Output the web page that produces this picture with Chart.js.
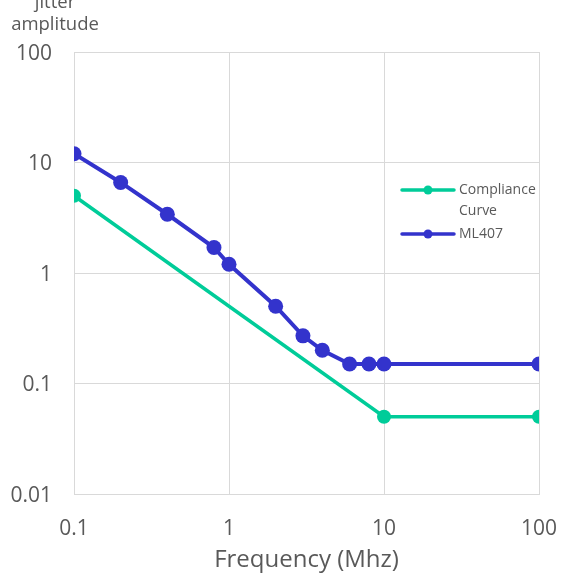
<!DOCTYPE html>
<html>
<head>
<meta charset="utf-8">
<script src="https://cdn.jsdelivr.net/npm/chart.js@4/dist/chart.umd.min.js"></script>
<style>
html,body{margin:0;padding:0;background:#fff;}
#wrap{width:561px;height:578px;position:relative;}
</style>
</head>
<body>
<div id="wrap"><canvas id="c" width="561" height="578"></canvas></div>
<script>
const complianceX = [0.1, 10, 100];
const complianceY = [5, 0.05, 0.05];
const ml407X = [0.1, 0.2, 0.4, 0.8, 1, 2, 3, 4, 6, 8, 10, 100];
const ml407Y = [12, 6.6, 3.4, 1.7, 1.2, 0.5, 0.27, 0.2, 0.15, 0.15, 0.15, 0.15];
const seriesNames = ['Compliance Curve', 'ML407'];
const xTickValues = [0.1, 1, 10, 100];
const xTickLabels = ['0.1', '1', '10', '100'];
const yTickValues = [0.01, 0.1, 1, 10, 100];
const yTickLabels = ['0.01', '0.1', '1', '10', '100'];
const xTitle = 'Frequency (Mhz)';
const yTitle = ['jitter', 'amplitude'];

const FONT = "'Open Sans', sans-serif";
const TXT = '#595959';
const GREEN = '#00CC99';
const BLUE = '#3333CC';

const toPts = (xs, ys) => xs.map((x, i) => ({x: x, y: ys[i]}));

const overlay = {
  id: 'overlay',
  afterDraw(chart) {
    const ctx = chart.ctx;
    ctx.save();
    // y title
    ctx.fillStyle = TXT;
    ctx.font = "18.5px " + FONT;
    ctx.textAlign = 'center';
    ctx.textBaseline = 'middle';
    yTitle.forEach((t, i) => ctx.fillText(t, 55, 3 + i * 22));
    // legend
    const items = [
      {lines: ['Compliance', 'Curve'], color: GREEN, y: 190},
      {lines: ['ML407'], color: BLUE, y: 234}
    ];
    ctx.font = "14px " + FONT;
    ctx.textAlign = 'left';
    items.forEach(it => {
      ctx.strokeStyle = it.color;
      ctx.lineWidth = 3.5;
      ctx.lineCap = 'round';
      ctx.beginPath();
      ctx.moveTo(402, it.y);
      ctx.lineTo(454, it.y);
      ctx.stroke();
      ctx.fillStyle = it.color;
      ctx.beginPath();
      ctx.arc(428, it.y, 4.5, 0, Math.PI * 2);
      ctx.fill();
      ctx.fillStyle = TXT;
      it.lines.forEach((l, i) => ctx.fillText(l, 459, it.y + i * 21));
    });
    ctx.restore();
  }
};

new Chart(document.getElementById('c'), {
  type: 'scatter',
  data: {
    datasets: [
      {
        label: seriesNames[0],
        data: toPts(complianceX, complianceY),
        showLine: true,
        borderColor: GREEN,
        backgroundColor: GREEN,
        borderWidth: 3.5,
        pointRadius: 7,
        pointHoverRadius: 7,
        pointBorderWidth: 0
      },
      {
        label: seriesNames[1],
        data: toPts(ml407X, ml407Y),
        showLine: true,
        borderColor: BLUE,
        backgroundColor: BLUE,
        borderWidth: 4,
        pointRadius: 7.5,
        pointHoverRadius: 7.5,
        pointBorderWidth: 0
      }
    ]
  },
  options: {
    responsive: false,
    animation: false,
    devicePixelRatio: 1,
    layout: {padding: {top: 52, right: 22, left: 0, bottom: 0}},
    plugins: {
      legend: {display: false},
      tooltip: {enabled: false}
    },
    scales: {
      x: {
        type: 'logarithmic',
        min: 0.1, max: 100,
        afterBuildTicks: s => { s.ticks = xTickValues.map(v => ({value: v})); },
        afterFit: s => { s.height = 84; s.paddingLeft = 0; s.paddingRight = 0; },
        grid: {color: '#d9d9d9', lineWidth: 1, drawTicks: false},
        border: {color: '#d9d9d9', width: 1},
        ticks: {
          autoSkip: false, maxRotation: 0, padding: 22,
          color: TXT, font: {family: FONT, size: 21},
          callback: (v) => { const i = xTickValues.indexOf(v); return i >= 0 ? xTickLabels[i] : ''; }
        },
        title: {display: true, text: xTitle, color: TXT, font: {family: FONT, size: 24}, padding: {top: 0, bottom: 3}}
      },
      y: {
        type: 'logarithmic',
        min: 0.01, max: 100,
        afterBuildTicks: s => { s.ticks = yTickValues.map(v => ({value: v})); },
        afterFit: s => { s.width = 74; s.paddingTop = 0; s.paddingBottom = 0; },
        grid: {color: '#d9d9d9', lineWidth: 1, drawTicks: false},
        border: {color: '#d9d9d9', width: 1},
        ticks: {
          autoSkip: false, padding: 22, labelOffset: 2,
          color: TXT, font: {family: FONT, size: 21},
          callback: (v) => { const i = yTickValues.indexOf(v); return i >= 0 ? yTickLabels[i] : ''; }
        }
      }
    }
  },
  plugins: [overlay]
});
</script>
</body>
</html>
